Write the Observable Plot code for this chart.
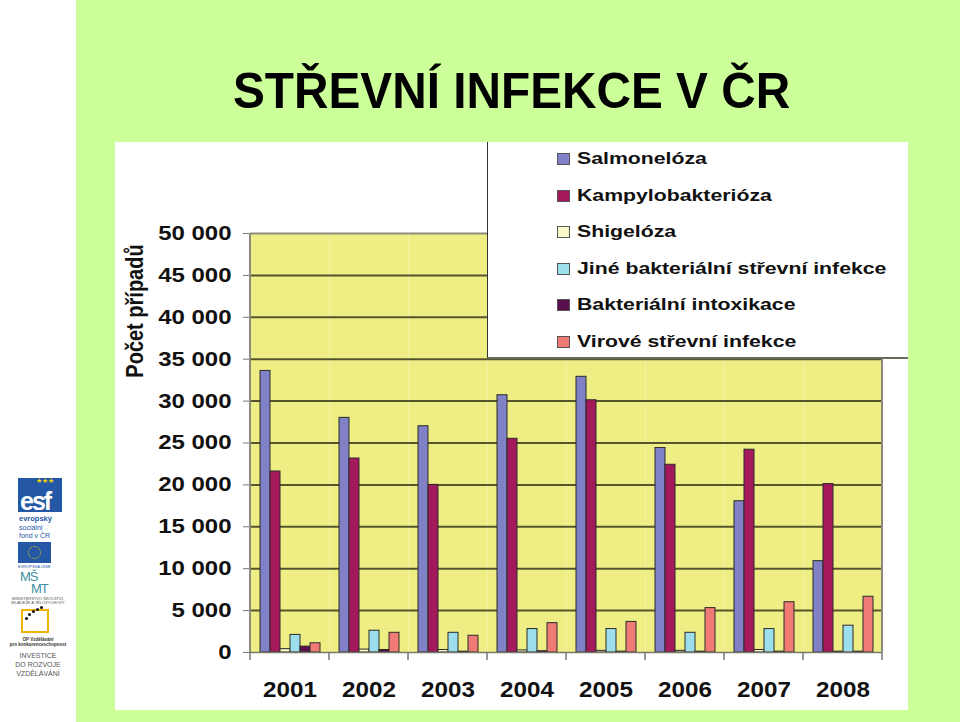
<!DOCTYPE html>
<html>
<head>
<meta charset="utf-8">
<script src="https://cdn.jsdelivr.net/npm/d3@7"></script>
<script src="https://cdn.jsdelivr.net/npm/@observablehq/plot@0.6"></script>
<style>
  body { margin: 0; }
  #slide { position: relative; width: 960px; height: 722px; background: #fff; overflow: hidden;
           font-family: "Liberation Sans", Arial, sans-serif; }
  #green { position: absolute; left: 76px; top: 0; width: 884px; height: 722px; background: #CCFF99; }
  #title { position: absolute; left: 233px; top: 66px; font-size: 50px; line-height: 50px; font-weight: bold;
           color: #000; white-space: nowrap; transform: scaleX(0.955); transform-origin: left top; }
  #chart { position: absolute; left: 115px; top: 142px; width: 793px; height: 568px; background: #fff; }
  #legend { position: absolute; left: 487px; top: 142px; width: 421px; height: 217px; background: #fff;
            border-left: 1.5px solid #333; border-bottom: 2px solid #6b6b5a; box-sizing: border-box; }
  .li { position: absolute; left: 0; height: 20px; }
  .sw { position: absolute; left: 69px; top: 4px; width: 11px; height: 10px; border: 1px solid #555; }
  .lt { position: absolute; left: 89px; top: 0; font-size: 17px; line-height: 20px; font-weight: bold; color: #111;
        white-space: nowrap; transform: scaleX(1.25); transform-origin: left center; }
  #ylab { position: absolute; left: 135px; top: 311px; font-size: 20px; font-weight: bold; color: #111; white-space: nowrap;
          transform: translate(-50%, -50%) rotate(-90deg) scale(1, 1.2); }
  .logo { position: absolute; }
  .tiny { position: absolute; left: 0; width: 76px; text-align: center; color: #555; white-space: nowrap; }
</style>
</head>
<body>
<div id="slide">
  <div id="green"></div>
  <div id="title">STŘEVNÍ INFEKCE V ČR</div>

  <!-- left logo strip -->
  <div class="logo" style="left:18px;top:478px;width:44px;height:34px;background:#2457A6;"></div>
  <div class="logo" style="left:36px;top:477px;font-size:7px;line-height:7px;color:#F5D800;letter-spacing:-1px;">★ ★ ★</div>
  <div class="logo" style="left:20px;top:491px;font-size:25px;line-height:21px;font-weight:bold;color:#fff;letter-spacing:-2px;">esf</div>
  <div class="logo" style="left:19px;top:515px;font-size:7.5px;line-height:8px;font-weight:bold;color:#2457A6;">evropský</div>
  <div class="logo" style="left:19px;top:524px;font-size:7px;line-height:8px;color:#2457A6;">sociální</div>
  <div class="logo" style="left:19px;top:532px;font-size:7px;line-height:8px;color:#2457A6;">fond v ČR</div>
  <div class="logo" style="left:18px;top:542px;width:33px;height:21px;background:#2457A6;"></div>
  <div class="logo" style="left:28px;top:546px;width:11px;height:11px;border:1px dotted #F5D800;border-radius:50%;"></div>
  <div class="logo" style="left:18px;top:565px;font-size:4px;line-height:4px;color:#2457A6;">EVROPSKÁ UNIE</div>
  <div class="logo" style="left:20px;top:571px;font-size:13px;line-height:12px;color:#3C8FA0;letter-spacing:-1px;">MŠ</div>
  <div class="logo" style="left:31px;top:583px;font-size:13px;line-height:12px;color:#3C8FA0;letter-spacing:-1px;">MT</div>
  <div class="tiny" style="top:597px;font-size:4px;line-height:4px;">MINISTERSTVO ŠKOLSTVÍ,</div>
  <div class="tiny" style="top:601px;font-size:4px;line-height:4px;">MLÁDEŽE A TĚLOVÝCHOVY</div>
  <div class="logo" style="left:21px;top:609px;width:28px;height:24px;border:2px solid #F0B400;box-sizing:border-box;"></div>
  <div class="logo" style="left:28px;top:613px;width:3px;height:3px;background:#111;border-radius:50%;box-shadow:4px -3px 0 #111, 8px -5px 0 #111, 12px -7px 0 #111, -3px 4px 0 #111;"></div>
  <div class="tiny" style="top:637px;font-size:4.5px;line-height:5px;font-weight:bold;color:#333;">OP Vzdělávání</div>
  <div class="tiny" style="top:642px;font-size:4.5px;line-height:5px;font-weight:bold;color:#333;">pro konkurenceschopnost</div>
  <div class="tiny" style="top:651px;font-size:7px;line-height:9px;">INVESTICE</div>
  <div class="tiny" style="top:660px;font-size:7px;line-height:9px;">DO ROZVOJE</div>
  <div class="tiny" style="top:669px;font-size:7px;line-height:9px;">VZDĚLÁVÁNÍ</div>

  <div id="chart"></div>
  <div id="legend"></div>
  <div id="ylab">Počet případů</div>
</div>
<script>
// ---- data ----
const years = ["2001", "2002", "2003", "2004", "2005", "2006", "2007", "2008"];
const seriesNames = [
  "Salmonelóza",
  "Kampylobakterióza",
  "Shigelóza",
  "Jiné bakteriální střevní infekce",
  "Bakteriální intoxikace",
  "Virové střevní infekce"
];
const salmoneloza       = [33600, 28000, 27000, 30700, 32900, 24400, 18050, 10900];
const kampylobakterioza = [21600, 23150, 20000, 25500, 30100, 22400, 24200, 20100];
const shigeloza         = [400, 350, 300, 250, 200, 200, 300, 100];
const jineBakterialni   = [2100, 2600, 2350, 2800, 2800, 2350, 2800, 3200];
const intoxikace        = [700, 300, 100, 150, 100, 100, 100, 100];
const viroveInfekce     = [1100, 2350, 2000, 3500, 3650, 5300, 6000, 6650];
const seriesColors = ["#8181C7", "#A3195B", "#FAFAC8", "#9CDEEC", "#5A0E4E", "#F07A74"];
const yTicks = [0, 5000, 10000, 15000, 20000, 25000, 30000, 35000, 40000, 45000, 50000];

const seriesValues = [salmoneloza, kampylobakterioza, shigeloza, jineBakterialni, intoxikace, viroveInfekce];
const data = years.flatMap((year, i) =>
  seriesNames.map((series, j) => ({year, series, value: seriesValues[j][i]})));

const fmt = d => d3.format(",")(d).replace(/,/g, " ");

const plot = Plot.plot({
  width: 793,
  height: 568,
  marginLeft: 132,
  marginRight: 23,
  marginTop: 91,
  marginBottom: 58,
  style: {background: "white", fontFamily: "'Liberation Sans', Arial, sans-serif", color: "#111"},
  fx: {domain: years, padding: 0, label: null},
  x: {domain: seriesNames, paddingInner: 0, paddingOuter: 0.75, axis: null},
  y: {domain: [0, 50000]},
  color: {domain: seriesNames, range: seriesColors},
  marks: [
    Plot.frame({fill: "#EEEE84", stroke: "none"}),
    Plot.ruleY(yTicks.slice(1, -1), {stroke: "#55542c", strokeWidth: 2}),
    Plot.ruleY([50000], {stroke: "#8c8c78", strokeWidth: 2}),
    Plot.barY(data, {fx: "year", x: "series", y: "value", fill: "series", stroke: "#2b2b2b", strokeWidth: 1}),
    Plot.ruleY([0], {stroke: "#7a7a6a", strokeWidth: 1.5}),
    Plot.axisY({ticks: yTicks, tickFormat: fmt, tickSize: 7, tickPadding: 12, fontSize: 20, fontWeight: "bold",
                label: null, stroke: "#777"}),
    Plot.axisFx({anchor: "bottom", tickSize: 0, tickPadding: 29, fontSize: 22, fontWeight: "bold", label: null})
  ]
});

document.getElementById("chart").appendChild(plot);

// plot border, year boundary ticks – from the library's scales
const svg = d3.select(plot);
const fx = plot.scale("fx"), y = plot.scale("y");
const y0 = y.apply(0), yTop = y.apply(50000);
const starts = years.map(yr => fx.apply(yr));
const step = fx.step || fx.bandwidth;
const bounds = [...starts, starts[starts.length - 1] + step];
const g = svg.append("g");
g.selectAll("line.tk").data(bounds).join("line")
  .attr("x1", d => d).attr("x2", d => d).attr("y1", y0).attr("y2", y0 + 8)
  .attr("stroke", "#777").attr("stroke-width", 1.5);
[bounds[0], bounds[bounds.length - 1]].forEach(bx => {
  g.append("line").attr("x1", bx).attr("x2", bx).attr("y1", yTop).attr("y2", y0)
    .attr("stroke", "#8a8a80").attr("stroke-width", 2);
});

// horizontally stretched tick labels like the original bitmap
function stretch(sel, sx) {
  svg.selectAll(sel).each(function () {
    const t = this.getAttribute("transform");
    if (t) this.setAttribute("transform", t + ` scale(${sx},1)`);
  });
}
stretch('g[aria-label="y-axis tick label"] text', 1.2);
stretch('g[aria-label="fx-axis tick label"] text', 1.1);

// legend
const legend = document.getElementById("legend");
seriesNames.forEach((name, i) => {
  const row = document.createElement("div");
  row.className = "li";
  row.style.top = (7 + i * 36.6) + "px";
  const sw = document.createElement("div");
  sw.className = "sw";
  sw.style.background = seriesColors[i];
  const tx = document.createElement("div");
  tx.className = "lt";
  tx.textContent = name;
  row.appendChild(sw);
  row.appendChild(tx);
  legend.appendChild(row);
});
</script>
</body>
</html>
